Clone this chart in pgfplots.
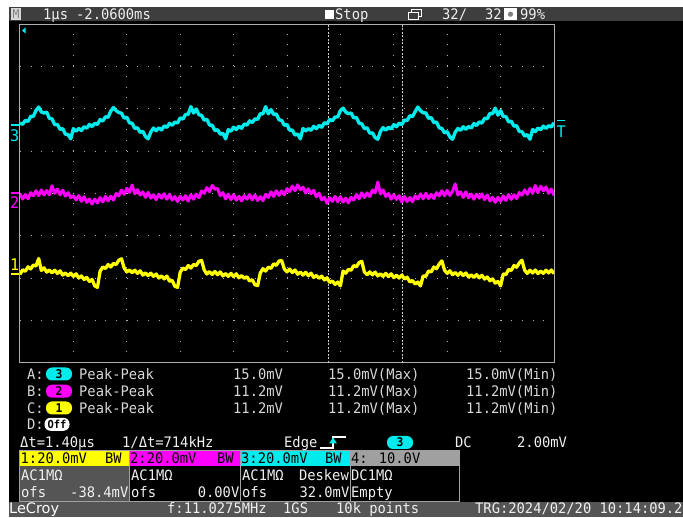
\documentclass[border=0pt]{standalone}
\usepackage{pgfplots}
\pgfplotsset{compat=1.18}
\usepackage{pgfplotstable}
\usepackage{fontspec}
\setmainfont{DejaVu Sans Mono}[FakeStretch=0.95]
\newfontfamily\brand{DejaVu Sans}
\definecolor{scyan}{RGB}{0,235,235}
\definecolor{smag}{RGB}{255,0,255}
\definecolor{syel}{RGB}{255,255,0}
\definecolor{topbar}{RGB}{62,62,62}
\definecolor{bbar}{RGB}{85,85,85}
\definecolor{gridc}{RGB}{175,175,175}
\definecolor{txt}{RGB}{215,215,215}
\definecolor{wtxt}{RGB}{240,240,240}
\definecolor{gray4}{RGB}{160,160,160}
\definecolor{cursor}{RGB}{205,205,205}
\definecolor{mbox}{RGB}{215,215,215}

\pgfplotstableread{
t cyan mag yel
0.00 33.2 -0.2 -38.2
0.05 32.7 -2.6 -36.0
0.10 34.5 -0.5 -36.7
0.15 34.0 -2.5 -34.6
0.20 36.4 0.4 -35.6
0.25 36.4 -1.1 -33.8
0.30 39.2 1.3 -34.2
0.35 40.8 -1.0 -30.7
0.40 38.5 1.7 -36.3
0.45 38.0 -0.7 -35.1
0.50 38.4 1.4 -37.1
0.55 35.5 -0.6 -36.1
0.60 35.2 3.6 -37.4
0.65 32.5 0.1 -36.2
0.70 32.6 2.1 -37.7
0.75 30.3 -0.6 -36.5
0.80 30.6 1.6 -38.5
0.85 28.0 -1.2 -37.5
0.90 27.8 0.4 -38.8
0.95 25.8 -2.0 -37.6
1.00 30.6 -1.1 -39.1
1.05 29.4 -3.0 -37.9
1.10 30.7 -1.0 -39.9
1.15 29.7 -3.7 -38.9
1.20 31.5 -1.5 -40.6
1.25 30.8 -4.2 -39.6
1.30 32.6 -2.6 -41.5
1.35 31.6 -5.0 -40.6
1.40 33.1 -2.6 -43.6
1.45 32.6 -4.5 -44.3
1.50 34.9 -1.9 -36.7
1.55 34.2 -4.0 -34.7
1.60 36.2 -1.3 -35.4
1.65 36.0 -3.5 -33.5
1.70 38.9 -1.3 -34.7
1.75 40.6 -3.1 -33.0
1.80 39.1 0.0 -33.5
1.85 38.2 -1.1 -31.5
1.90 37.9 1.6 -30.8
1.95 35.6 -0.4 -35.1
2.00 36.0 2.5 -37.0
2.05 33.3 0.5 -36.1
2.10 33.2 4.0 -37.4
2.15 30.7 -0.1 -36.2
2.20 31.0 1.8 -37.7
2.25 28.9 -0.7 -36.5
2.30 29.3 0.8 -38.5
2.35 26.9 -1.8 -37.5
2.40 25.8 0.5 -38.8
2.45 29.0 -2.2 -37.6
2.50 30.9 -0.6 -39.1
2.55 29.6 -2.9 -38.0
2.60 31.0 -0.4 -39.9
2.65 30.0 -2.2 -38.9
2.70 31.9 -0.1 -40.3
2.75 31.2 -2.7 -39.0
2.80 33.1 -0.4 -41.4
2.85 32.2 -3.1 -41.0
2.90 33.7 -1.4 -43.8
2.95 33.3 -3.8 -44.3
3.00 35.7 -1.3 -37.2
3.05 35.1 -3.1 -35.2
3.10 37.3 -1.0 -35.9
3.15 37.4 -3.6 -34.0
3.20 41.0 -0.6 -35.2
3.25 38.0 -2.7 -33.5
3.30 39.9 -0.3 -34.0
3.35 37.2 -2.0 -32.0
3.40 36.9 1.2 -31.6
3.45 34.6 0.1 -36.1
3.50 35.0 2.8 -38.0
3.55 32.3 0.9 -36.9
3.60 32.2 3.8 -38.2
3.65 29.7 2.0 -36.8
3.70 30.1 2.4 -38.3
3.75 28.0 -1.0 -37.0
3.80 28.4 0.4 -38.9
3.85 25.8 -2.5 -37.8
3.90 30.1 -0.3 -39.1
3.95 29.4 -2.9 -37.7
4.00 31.3 -0.5 -39.2
4.05 30.2 -3.1 -37.9
4.10 31.7 -1.3 -39.8
4.15 30.8 -3.5 -38.8
4.20 32.8 -1.0 -40.0
4.25 32.3 -2.7 -39.3
4.30 34.3 -0.5 -41.3
4.35 33.5 -3.0 -40.7
4.40 35.2 -0.7 -43.1
4.45 35.0 -3.3 -43.5
4.50 37.7 -1.5 -37.5
4.55 37.6 -3.4 -35.5
4.60 41.0 -0.4 -36.6
4.65 37.6 -1.8 -34.8
4.70 39.6 0.8 -35.3
4.75 37.3 -1.4 -33.2
4.80 37.5 1.3 -33.9
4.85 34.8 -0.9 -31.9
4.90 34.5 1.2 -31.6
4.95 32.2 -0.6 -35.6
5.00 32.6 2.3 -37.0
5.05 29.9 0.9 -35.7
5.10 29.9 3.5 -37.3
5.15 27.6 1.3 -36.1
5.20 28.1 4.1 -38.1
5.25 25.8 1.8 -37.1
5.30 30.7 3.0 -38.5
5.35 29.5 0.2 -37.2
5.40 30.6 2.2 -38.8
5.45 29.8 -0.1 -37.6
5.50 31.7 1.5 -39.6
5.55 30.6 -1.6 -38.7
5.60 32.1 0.2 -40.0
5.65 31.3 -3.0 -39.0
5.70 33.4 -1.8 -40.8
5.75 32.9 -4.6 -39.8
5.80 35.0 -2.0 -42.0
5.85 34.3 -3.7 -41.3
5.90 36.1 -1.4 -42.9
5.95 36.1 -3.9 -41.8
6.00 39.1 -1.5 -43.6
6.05 40.3 -4.1 -36.6
6.10 38.4 -2.2 -37.6
6.15 37.7 -4.4 -35.8
6.20 38.0 -1.8 -36.2
6.25 35.7 -3.1 -34.0
6.30 35.9 -0.5 -34.6
6.35 33.2 -2.5 -32.6
6.40 32.9 0.3 -32.0
6.45 30.6 -1.9 -37.1
6.50 31.0 0.3 -38.3
6.55 28.5 -1.4 -37.0
6.60 28.6 1.6 -38.4
6.65 26.4 0.3 -37.1
6.70 25.6 5.4 -38.9
6.75 29.3 -0.2 -37.9
6.80 31.1 1.7 -39.1
6.85 29.9 -1.4 -37.7
6.90 31.2 0.0 -39.2
6.95 30.5 -2.7 -37.9
7.00 32.5 -0.6 -39.7
7.05 31.5 -2.8 -38.6
7.10 33.2 -1.0 -39.9
7.15 32.5 -4.0 -38.5
7.20 34.7 -1.4 -40.3
7.25 34.4 -3.8 -39.5
7.30 36.7 -1.9 -41.7
7.35 36.3 -3.9 -41.1
7.40 38.6 -1.1 -42.7
7.45 40.8 -2.6 -41.8
7.50 39.1 -0.2 -43.6
7.55 38.1 -2.5 -38.9
7.60 38.0 0.1 -39.1
7.65 35.5 -2.4 -36.6
7.70 35.8 -0.4 -37.0
7.75 33.5 -2.4 -34.7
7.80 33.7 0.4 -35.5
7.85 31.0 -1.1 -33.3
7.90 30.7 1.3 -31.8
7.95 28.6 -1.1 -36.2
8.00 29.2 1.5 -37.7
8.05 26.7 -0.9 -36.5
8.10 25.6 1.1 -38.3
8.15 28.9 4.5 -37.3
8.20 30.7 -0.7 -38.6
8.25 29.8 0.8 -37.3
8.30 31.5 -1.9 -38.7
8.35 30.3 0.8 -37.5
8.40 31.6 -2.0 -39.4
8.45 30.9 -0.3 -38.4
8.50 33.0 -2.7 -39.6
8.55 32.1 -0.3 -38.3
8.60 33.8 -2.2 -39.8
8.65 33.2 -0.2 -38.6
8.70 35.5 -2.9 -40.4
8.75 35.3 -0.7 -39.4
8.80 37.8 -3.5 -41.2
8.85 37.7 -1.8 -40.3
8.90 40.3 -4.2 -42.3
8.95 37.0 -1.8 -41.5
9.00 39.1 -3.7 -43.6
9.05 36.4 -1.1 -38.0
9.10 36.3 -3.3 -38.2
9.15 33.8 -0.5 -35.9
9.20 34.1 -2.8 -36.3
9.25 31.8 -0.6 -34.0
9.30 32.0 -2.4 -34.8
9.35 29.3 0.5 -32.8
9.40 29.2 -0.8 -31.5
9.45 27.1 1.7 -36.2
9.50 27.8 -0.4 -37.7
9.55 25.6 2.4 -36.2
9.60 30.2 0.1 -37.5
9.65 29.2 3.8 -36.1
9.70 30.9 0.4 -37.8
9.75 30.1 3.4 -36.6
9.80 31.8 1.3 -37.7
9.85 30.7 3.1 -36.2
9.90 32.0 0.1 -37.5
9.95 31.4 2.1 -36.1
10.00 33.4 -0.9 -37.8
}\osc

\newcommand{\tx}[4][txt]{\node[anchor=base west,inner sep=0pt,text=#1] at (#2,#3) {#4};}
\newcommand{\txr}[4][txt]{\node[anchor=base east,inner sep=0pt,text=#1] at (#2,#3) {#4};}
\newcommand{\pill}[5][26pt]{\node[fill=#4,rounded corners=6pt,minimum width=#1,minimum height=13pt,inner sep=0pt,text=black,font=\fontsize{12}{12}\selectfont\bfseries] at (#2,#3) {#5};}
\tikzset{px/.style={x=1pt,y=-1pt,shift={(0pt,517pt)}}}

\begin{document}
\begin{tikzpicture}[font=\fontsize{14.5}{16}\selectfont]
\useasboundingbox (0pt,0pt) rectangle (683pt,517pt);
\begin{scope}[px]
\fill[white] (0,0) rectangle (683,517);
\fill[black] (9,7) rectangle (683,517);
% top bar
\fill[topbar] (9,7) rectangle (683,21);
\fill[mbox] (11,8.5) rectangle (21,20);
\node[text=gray,inner sep=0pt,font=\fontsize{12}{12}\selectfont] at (16,14.5) {M};
\tx[wtxt]{43}{19.5}{1µs}
\tx[wtxt]{76}{19.5}{-2.0600ms}
\fill[white] (325,10) rectangle (334,19);
\tx[wtxt]{335}{19.5}{Stop}
\draw[white,line width=1pt] (411.5,9.5) rectangle (421,16.5);
\filldraw[fill=topbar,draw=white,line width=1pt] (408.5,12.5) rectangle (418,19.5);
\tx[wtxt]{442}{19.5}{32/}
\tx[wtxt]{485}{19.5}{32}
\fill[white] (504,8.5) rectangle (517,20);
\fill[gray] (510.5,14.2) circle (2.6pt);
\tx[wtxt]{520}{19.5}{99\%}
\end{scope}

\begin{axis}[
  at={(20pt,154pt)}, anchor=south west,
  scale only axis, width=534pt, height=339pt,
  xmin=0, xmax=10, ymin=-80, ymax=80,
  xtick={1,2,3,4,5,6,7,8,9}, ytick={-60,-40,-20,0,20,40,60},
  xticklabels={}, yticklabels={},
  major tick length=0pt,
  xmajorgrids, ymajorgrids,
  major x grid style={draw=gridc,line width=1pt,dash pattern=on 1pt off 9.59pt},
  major y grid style={draw=gridc,line width=1pt,dash pattern=on 1pt off 9.68pt},
  axis line style={draw=gridc,line width=1pt},
  extra x ticks={5.77,7.17}, extra x tick labels={},
  extra x tick style={major tick length=0pt,major x grid style={draw=cursor,line width=1pt,dash pattern=on 2pt off 1.5pt}},
]
\addplot[draw=smag,line width=3pt,line join=round,no markers] table[x=t,y=mag]{\osc};
\addplot[draw=syel,line width=3.3pt,line join=round,no markers] table[x=t,y=yel]{\osc};
\addplot[draw=scyan,line width=3.4pt,line join=round,no markers] table[x=t,y=cyan]{\osc};
\end{axis}

\begin{scope}[px]
% markers
\fill[scyan] (22,30.5) -- (25.5,27.5) -- (25.5,33.5) -- cycle;
\node[anchor=base west,inner sep=0pt,text=scyan,font=\fontsize{16}{16}\selectfont] at (10,141.5) {3};
\draw[scyan,line width=1.2pt] (10.5,125) -- (18.5,125);
\node[anchor=base west,inner sep=0pt,text=smag,font=\fontsize{16}{16}\selectfont] at (10,209) {2};
\draw[smag,line width=1.2pt] (10.5,193) -- (18.5,193);
\node[anchor=base west,inner sep=0pt,text=syel,font=\fontsize{16}{16}\selectfont] at (10,270.5) {1};
\draw[syel,line width=1.2pt] (10.5,274) -- (18.5,274);
\node[anchor=base west,inner sep=0pt,text=scyan,font=\fontsize{16}{16}\selectfont] at (556.5,137.5) {T};
\draw[scyan,line width=1.2pt] (557,120.5) -- (565,120.5);

% measurements
\tx{27}{379.3}{A:}\pill{59}{374}{scyan}{3}\tx{79}{379.3}{Peak-Peak}
\tx{233}{379.3}{15.0mV}\tx{328}{379.3}{15.0mV(Max)}\tx{466}{379.3}{15.0mV(Min)}
\tx{27}{396.5}{B:}\pill{59}{391.2}{smag}{2}\tx{79}{396.5}{Peak-Peak}
\tx{233}{396.5}{11.2mV}\tx{328}{396.5}{11.2mV(Max)}\tx{466}{396.5}{11.2mV(Min)}
\tx{27}{413.3}{C:}\pill{59}{408}{syel}{1}\tx{79}{413.3}{Peak-Peak}
\tx{233}{413.3}{11.2mV}\tx{328}{413.3}{11.2mV(Max)}\tx{466}{413.3}{11.2mV(Min)}
\tx{27}{429.5}{D:}
\node[fill=white,rounded corners=6pt,minimum width=25pt,minimum height=13pt,inner sep=0pt,text=black,font=\fontsize{11}{11}\selectfont\bfseries] at (57,424.3) {Off};

% trigger row
\tx[wtxt]{20}{448}{Δt=1.40µs}
\tx[wtxt]{122}{448}{1/Δt=714kHz}
\tx[wtxt]{284}{448}{Edge}
\draw[white,line width=1.2pt] (320,448) -- (333,448) -- (333,437) -- (346,437);
\fill[scyan] (333,437.5) -- (329,443.5) -- (337,443.5) -- cycle;
\pill{400}{442.5}{scyan}{3}
\tx[wtxt]{455}{448}{DC}
\tx[wtxt]{517}{448}{2.00mV}

% channel boxes
\fill[syel] (19.5,451) rectangle (129,466);
\fill[smag] (129,451) rectangle (240,466);
\fill[scyan] (240,451) rectangle (350,466);
\fill[gray4] (350,451) rectangle (459,466);
\fill[bbar] (19.5,466) rectangle (129,501);
\draw[gray4,line width=1pt] (19.5,451) rectangle (129,501);
\draw[gray4,line width=1pt] (129,451) rectangle (240,501);
\draw[gray4,line width=1pt] (240,451) rectangle (350,501);
\draw[gray4,line width=1pt] (350,451) rectangle (459,501);
\tx[black]{20.5}{463.5}{1:20.0mV}\tx[black]{105}{463.5}{BW}
\tx[black]{130}{463.5}{2:20.0mV}\tx[black]{217}{463.5}{BW}
\tx[black]{241}{463.5}{3:20.0mV}\tx[black]{325}{463.5}{BW}
\tx[black]{351}{463.5}{4: 10.0V}
\tx[wtxt]{21}{480.5}{AC1MΩ}
\tx[wtxt]{131}{480.5}{AC1MΩ}
\tx[wtxt]{242}{480.5}{AC1MΩ}\txr[wtxt]{349}{480.5}{Deskew}
\tx[wtxt]{351}{480.5}{DC1MΩ}
\tx[wtxt]{21}{497.5}{ofs}\txr[wtxt]{128.5}{497.5}{-38.4mV}
\tx[wtxt]{131}{497.5}{ofs}\txr[wtxt]{239.5}{497.5}{0.00V}
\tx[wtxt]{242}{497.5}{ofs}\txr[wtxt]{349.5}{497.5}{32.0mV}
\tx[wtxt]{351}{497.5}{Empty}

% bottom bar
\fill[bbar] (9,502) rectangle (683,517);
\node[anchor=base west,inner sep=0pt,text=white,font=\brand\fontsize{14.5}{15}\selectfont] at (9,513.5) {LeCroy};
\tx[wtxt]{167}{513.5}{f:11.0275MHz}
\tx[wtxt]{283}{513.5}{1GS}
\tx[wtxt]{336}{513.5}{10k points}
\tx[wtxt]{475}{513.5}{TRG:2024/02/20 10:14:09.2}
\end{scope}
\end{tikzpicture}
\end{document}
